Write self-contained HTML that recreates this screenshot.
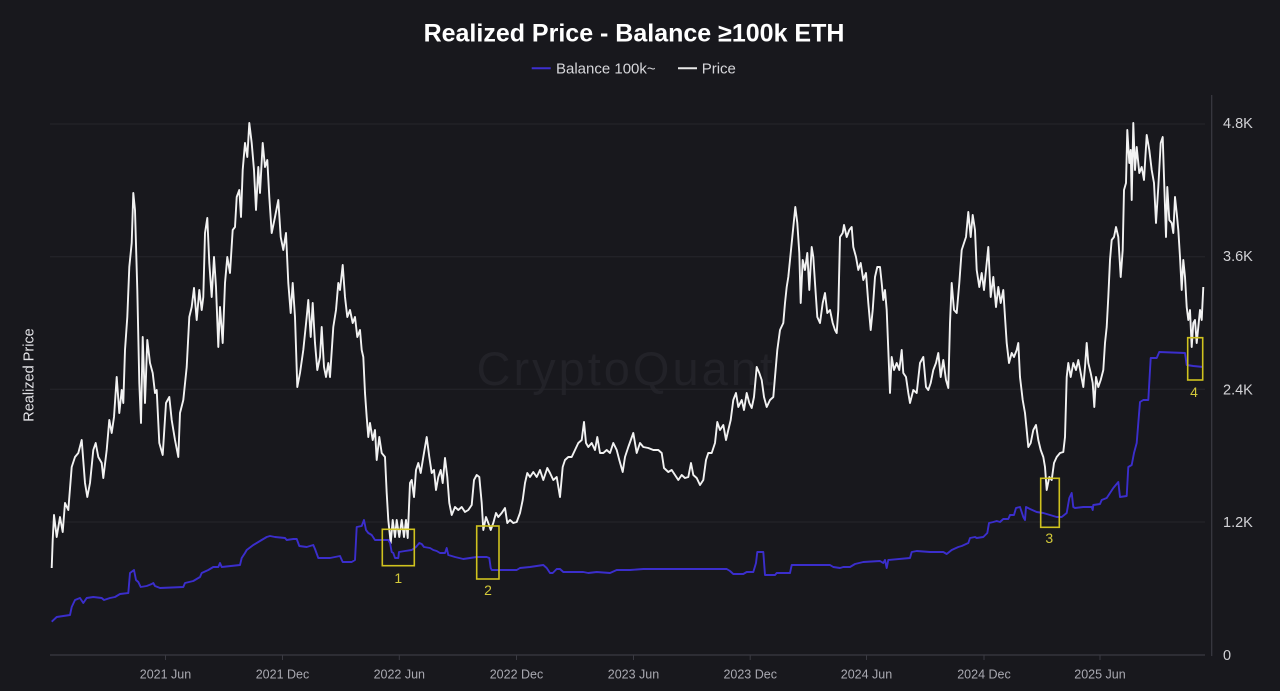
<!DOCTYPE html>
<html>
<head>
<meta charset="utf-8">
<style>
  html,body{margin:0;padding:0;background:#18181d;width:1280px;height:691px;overflow:hidden;}
  svg{display:block;}
  text{font-family:"Liberation Sans",Arial,sans-serif;}
</style>
</head>
<body>
<svg width="1280" height="691" viewBox="0 0 1280 691" xmlns="http://www.w3.org/2000/svg">
  <rect x="0" y="0" width="1280" height="691" fill="#18181d"/>

  <!-- Title -->
  <text x="634" y="41.5" text-anchor="middle" font-size="25" font-weight="bold" fill="#ffffff">Realized Price - Balance ≥100k ETH</text>

  <!-- Legend -->
  <line x1="531.7" y1="68.3" x2="550.7" y2="68.3" stroke="#3d2fd0" stroke-width="2"/>
  <text x="556" y="73.6" font-size="15" fill="#d6d6da">Balance 100k~</text>
  <line x1="678" y1="68.3" x2="697" y2="68.3" stroke="#e8e8e8" stroke-width="2"/>
  <text x="701.7" y="73.6" font-size="15" fill="#d6d6da">Price</text>

  <!-- Y axis title -->
  <text transform="translate(33.5,375) rotate(-90)" text-anchor="middle" font-size="14.5" fill="#e2e2e6">Realized Price</text>

  <!-- Watermark -->
  <text x="476.5" y="385" font-size="47" letter-spacing="3" fill="#222228">CryptoQuant</text>

  <!-- Gridlines -->
  <g stroke="#26262c" stroke-width="1">
    <line x1="50" y1="124" x2="1205" y2="124"/>
    <line x1="50" y1="256.7" x2="1205" y2="256.7"/>
    <line x1="50" y1="389.3" x2="1205" y2="389.3"/>
    <line x1="50" y1="522" x2="1205" y2="522"/>
  </g>
  <!-- X axis -->
  <line x1="50" y1="655" x2="1205" y2="655" stroke="#3a3a42" stroke-width="1.2"/>
  <g stroke="#3a3a42" stroke-width="1">
    <line x1="165.5" y1="655" x2="165.5" y2="660"/>
    <line x1="282.5" y1="655" x2="282.5" y2="660"/>
    <line x1="399.3" y1="655" x2="399.3" y2="660"/>
    <line x1="516.5" y1="655" x2="516.5" y2="660"/>
    <line x1="633.5" y1="655" x2="633.5" y2="660"/>
    <line x1="750.2" y1="655" x2="750.2" y2="660"/>
    <line x1="866.5" y1="655" x2="866.5" y2="660"/>
    <line x1="984" y1="655" x2="984" y2="660"/>
    <line x1="1100" y1="655" x2="1100" y2="660"/>
  </g>
  <g font-size="12.5" fill="#a9a9b1" text-anchor="middle">
    <text x="165.5" y="678.5">2021 Jun</text>
    <text x="282.5" y="678.5">2021 Dec</text>
    <text x="399.3" y="678.5">2022 Jun</text>
    <text x="516.5" y="678.5">2022 Dec</text>
    <text x="633.5" y="678.5">2023 Jun</text>
    <text x="750.2" y="678.5">2023 Dec</text>
    <text x="866.5" y="678.5">2024 Jun</text>
    <text x="984" y="678.5">2024 Dec</text>
    <text x="1100" y="678.5">2025 Jun</text>
  </g>

  <!-- Right Y axis -->
  <line x1="1211.7" y1="95" x2="1211.7" y2="656" stroke="#3a3a42" stroke-width="1.2"/>
  <g font-size="14.5" fill="#d2d2d6">
    <text x="1223" y="127.8">4.8K</text>
    <text x="1223" y="260.8">3.6K</text>
    <text x="1223" y="394.3">2.4K</text>
    <text x="1223" y="527">1.2K</text>
    <text x="1223" y="660">0</text>
  </g>

  <!-- Price line -->
  <polyline fill="none" stroke="#f2f2f2" stroke-width="1.9" stroke-linejoin="round" points="
51.7,568 52.7,540 54,515 56.7,537 60,517 62.7,532 65,503 68.3,510 71.7,467 75,457 78.3,453 81.7,440 85,483 87.3,497 90,483 93.3,450 95.7,443 98.3,457 101.7,463 103.3,478 106.7,450 109.3,420 111.7,433 114,417 116.7,377 119.3,413 121.7,390 123.3,403 125,350 127.3,317 129.3,267 131.7,243 133.3,193 135,210 137.3,290 139.3,383 141,423 142.7,337 145,403 147.3,340 150,363 152.7,373 155,393 156.7,390 159.3,443 162.7,455 166,403 169.3,397 171.7,420 175,440 178.3,457 180,413 183.3,400 186.7,367 189.3,317 191.7,307 194,288 196.7,320 199.3,290 201.7,310 203.3,297 205,233 207.3,218 209.3,263 211.7,297 214,257 216,287 218.3,347 220,307 222.7,343 225,283 227.3,257 230,273 232.7,230 235,227 236.7,197 239.3,190 241,217 242.7,170 245,143 247.3,157 249.3,123 251.7,143 254,170 256,210 258.3,167 260,193 262.7,143 265,167 267.3,160 269.3,197 271.7,233 275,217 278.3,200 280.7,237 283.3,250 286,233 288.3,283 290.7,313 292.7,283 295,317 297.3,387 300,373 303.3,350 306.7,317 308.3,300 310.7,337 312.7,303 315,343 317.3,370 320,357 321.7,327 324,367 326,377 328.3,363 330,377 333.3,327 336,310 338.3,283 340,290 342.7,265 345,297 347.3,317 350,310 352.7,323 355,317 357.3,337 360,330 361.7,350 363.3,357 365,393 366.7,417 368.3,437 370,423 372.7,440 375,430 376.7,460 379.3,437 381.7,453 385,457 386.7,493 388.3,520 390.7,543 392.7,520 395,537 396.7,520 399.3,537 401.7,520 404,537 406,520 407.7,538 410,483 411.7,480 414,497 416,470 418.3,463 420.7,473 423.3,457 426.7,437 429.3,457 431.7,473 434,470 436,490 438.3,477 440.7,470 442.7,483 445,458 447.3,477 449.3,503 451.7,515 455,507 458.3,510 461.7,507 465,512 468.3,510 471.7,505 474,480 476.7,475 479.3,477 481.7,503 483.3,530 486,517 488.3,523 490.7,530 493.3,523 496,513 498.3,517 501.7,513 505,508 507.3,523 510,520 513.3,523 516.7,522 520,513 522.7,500 525,483 527.3,473 530,477 533.3,472 536.7,477 540,470 543.3,480 547.3,468 550,473 553.3,480 556.7,477 560,497 562.7,467 565,460 568.3,457 571.7,457 575,450 578.3,443 581.7,440 584,422 586,443 588.3,447 591.7,443 595,450 597.3,437 600,453 603.3,453 606.7,450 610,453 613.3,443 616.7,450 619.3,460 622.7,472 625,457 628.3,447 633.3,433 636.7,453 640,443 643.3,447 648.3,448 653.3,450 658.3,450 661.7,453 664,468 668.3,472 671.7,470 675,475 678.3,480 681.7,475 685,478 688.3,477 691,463 693.3,475 696.7,478 700,485 703.3,480 706,460 708.3,453 711.7,453 715,443 717.3,422 720,430 723.3,425 726,440 728.3,430 730.7,420 733.3,400 736,393 738.3,407 741.7,400 744,410 746.7,393 749.3,403 751.7,408 754,397 756.7,367 759.3,373 761.7,380 764,397 766.7,407 770,400 773.3,397 775,377 777.3,350 780,330 783.3,323 785,303 786.7,287 788.3,277 790,260 791.7,243 793.3,227 795.3,207 797.3,223 799.3,253 800.7,303 802.7,260 805,270 807.3,253 809.3,290 811.7,247 813.3,257 815,283 817.3,317 820,323 822.7,303 825,293 827.3,313 830,310 832.7,323 835,330 836.7,333 838.3,310 840,237 842.7,233 844,225 846.7,237 849.3,230 851.7,227 853.3,247 856,257 858.3,270 860.7,263 863.3,280 866,273 868.3,303 870.7,330 872.7,310 875,277 877.3,267 880,267 881.7,283 883.3,300 885,290 886.7,310 888.3,350 890,393 891.7,357 894,370 896.7,363 899.3,370 901.7,350 903.3,373 906,377 908.3,393 910,403 913.3,390 916.7,393 920,363 923.3,357 926,387 928.3,390 930.7,383 933.3,370 936,363 938.3,353 940.7,377 943.3,360 946,380 948.3,388 950,323 951.7,283 954,310 956.7,313 959.3,283 961.7,250 964,243 966,237 968.3,212 970.7,237 972.7,215 975,230 976.7,270 979.3,287 981.7,273 984,290 986,270 988.3,247 990.7,297 993.3,277 996,307 998.3,287 1000.7,303 1003.3,290 1005,317 1006.7,343 1009,363 1011.7,353 1014,357 1016.7,350 1018.3,343 1020,377 1022.7,400 1025,413 1026.7,430 1028.3,447 1030.7,443 1033.3,430 1036,425 1038.3,440 1040.7,450 1043.3,457 1045,467 1046.7,490 1049.3,477 1051.7,480 1054,463 1056.7,457 1060,453 1063.3,452 1065,437 1066.7,377 1068.3,363 1070.7,377 1073.3,363 1076,370 1078.3,360 1080.7,373 1083.3,387 1085,367 1086.7,343 1088.3,363 1090.7,373 1092.7,383 1094.3,407 1096,377 1098.3,387 1100.7,380 1103.3,370 1105,343 1106.7,327 1108.3,297 1110,260 1111.7,240 1114,237 1116,227 1118.3,237 1120.7,277 1122.7,250 1124,190 1126,183 1127.3,130 1129.3,163 1130.7,150 1131.7,200 1133.3,123 1135,170 1136.7,147 1139.3,173 1141.7,167 1144,180 1146.7,135 1149.3,150 1151.7,170 1154,183 1156,223 1158.3,187 1160.7,143 1162.7,137 1164,177 1166,237 1167.3,187 1169.3,220 1171.7,223 1173.3,233 1175,197 1176.7,213 1178.3,230 1180,257 1181.7,290 1183.3,260 1185,277 1186.7,307 1188.3,320 1190,310 1191.7,347 1193.3,323 1195,320 1196.7,343 1198.3,327 1200,310 1201.7,320 1203.3,287"/>

  <!-- Balance line -->
  <polyline fill="none" stroke="#3b2ecc" stroke-width="1.9" stroke-linejoin="round" points="
51.7,621.7 56.7,617 63.3,616 70,615 71.7,607 75,600 80,598 83.3,603 86.7,598 93.3,597 101.7,598 104,600 110,598 115,597 120,594 128.3,593 130,573 134,570 136,580 138.3,582 140.7,587 146.7,586 151.7,584 153.3,583 155,586 160,588 183.3,587 185,583 193.3,581 200,577 201.7,573 208.3,570 213.3,567 218.3,567 220,563 221.7,567 240,565 241.7,558 245,553 246.7,550 253.3,545 260,541 266.7,537 270,536 275,537 285,538 286.7,540 293.3,539 296.7,539 299.3,546 306.7,547 313.3,545 315,549 318.3,558 330,558 340,556 342.7,562 351.7,562 355,560 356.7,527 361.7,526 364,520 366,530 368.3,533 371.7,535 375,540 388.3,540 390,543 391.7,552 393.3,553 395,558 398.3,558 399,552 405,551 411.7,550 416,547 419.3,543 421.7,544 424,547 430,548 433.3,550 436.7,551 440,553 445,553 446.7,548 448.3,555 455,557 463.3,559 470,558 476.7,557 486.7,557 489.3,558 490.7,568 491.7,570 516.7,570 520,568 530,567 543.3,565 546.7,568 550,573 552.7,573 556.7,569 560,569 563.3,572 583.3,572 588.3,573 596.7,572 610,573 616.7,570 630,570 643.3,569 726.7,569 730,571 733.3,574 743.3,574 746.7,572 753.3,572 756,563 757.3,552 763.3,552 765,575 775,575 776.7,573 790,573 791.7,565 830,565 833.3,567 840,568 843.3,567 850,567 855,564 863.3,562 880,561 883.3,563 885,560 886.7,568 888.3,560 910,558 911.7,552 916.7,551 930,552 943.3,552 946.7,554 951.7,550 958.3,547 961.7,546 968.3,543 970,538 975,537 976.7,538 983.3,537 987.3,533 989,523 993.3,522 996.7,521 1000,522 1003.3,519 1008.3,519 1010,515 1014,515 1016,508 1020,507 1023.3,517 1025,520 1026,507 1030,509 1036.7,512 1043.3,513 1050,515 1056.7,517 1061.7,517 1066.7,513 1069.3,498 1071.7,493 1073.3,507 1075,508 1083.3,507 1091.7,507 1092.7,510 1093.3,505 1100,504 1101.7,500 1106.7,498 1110,493 1113.3,488 1118.3,482 1120,497 1126.7,496 1128.3,467 1131.7,465 1134,453 1136.7,443 1138.3,423 1140,402 1143.3,400 1148.3,400 1150.7,358 1156.7,358 1159.3,352 1185,353 1186.7,365 1193.3,366 1203.3,367"/>

  <!-- Yellow annotation boxes -->
  <g fill="none" stroke="#cfc21e" stroke-width="1.6">
    <rect x="382.3" y="529.3" width="32" height="36.4"/>
    <rect x="476.7" y="526" width="22.3" height="53"/>
    <rect x="1040.7" y="478.3" width="18.6" height="49"/>
    <rect x="1187.7" y="337.7" width="15" height="42.3"/>
  </g>
  <g font-size="14" fill="#d3c93a" text-anchor="middle">
    <text x="398.3" y="583">1</text>
    <text x="488" y="595">2</text>
    <text x="1049.3" y="543">3</text>
    <text x="1194" y="397">4</text>
  </g>
</svg>
</body>
</html>
